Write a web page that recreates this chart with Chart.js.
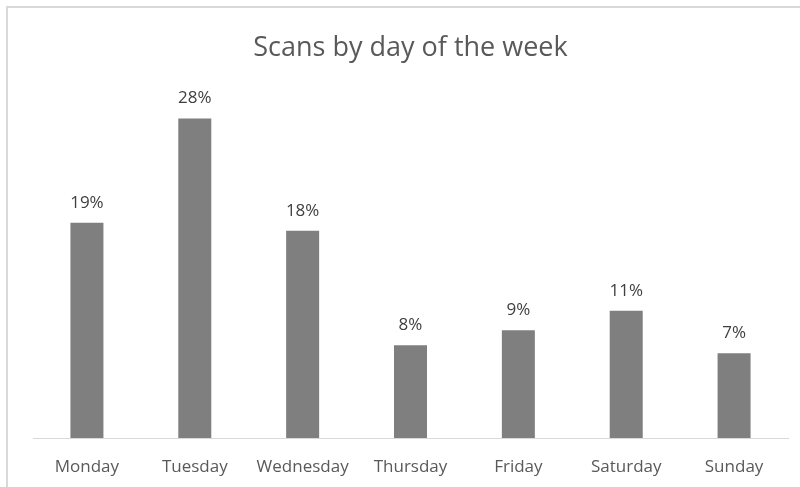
<!DOCTYPE html>
<html>
<head>
<meta charset="utf-8">
<script src="https://cdn.jsdelivr.net/npm/chart.js@4"></script>
<style>
  html, body { margin: 0; padding: 0; background: #fff; overflow: hidden; }
  #frame {
    position: absolute; left: 0; top: 0; width: 800px; height: 487px;
  }
  #chart { display: block; }
  #border {
    position: absolute; left: 6px; top: 6px; width: 820px; height: 500px;
    border: 2px solid #d9d9d9; pointer-events: none;
  }
</style>
</head>
<body>
<div id="frame">
  <canvas id="chart" width="800" height="487"></canvas>
  <div id="border"></div>
</div>
<script>
const days = ["Monday", "Tuesday", "Wednesday", "Thursday", "Friday", "Saturday", "Sunday"];
const scanShare = [18.8, 27.9, 18.1, 8.1, 9.4, 11.1, 7.4];
const shareLabels = ["19%", "28%", "18%", "8%", "9%", "11%", "7%"];

const fontFamily = "'Open Sans', 'Noto Sans', sans-serif";

// draws the percentage above each bar
const barLabels = {
    id: "barLabels",
    afterDatasetsDraw(chart) {
        const ctx = chart.ctx;
        const meta = chart.getDatasetMeta(0);
        ctx.save();
        ctx.font = "17px " + fontFamily;
        ctx.fillStyle = "#404040";
        ctx.textAlign = "center";
        ctx.textBaseline = "middle";
        meta.data.forEach((bar, i) => {
            ctx.fillText(shareLabels[i], bar.x, bar.y - 20);
        });
        ctx.restore();
    },
};

new Chart(document.getElementById("chart"), {
    type: "bar",
    data: {
        labels: days,
        datasets: [
            {
                data: scanShare,
                backgroundColor: "#7f7f7f",
                categoryPercentage: 1,
                barPercentage: 0.306,
            },
        ],
    },
    options: {
        responsive: false,
        animation: false,
        layout: { padding: { left: 33, right: 12, top: 0, bottom: 0 } },
        plugins: {
            legend: { display: false },
            tooltip: { enabled: false },
            title: {
                display: true,
                text: "Scans by day of the week",
                color: "#595959",
                font: { family: fontFamily, size: 27, weight: "normal", lineHeight: 1.2 },
                padding: { top: 32, bottom: 30 },
            },
        },
        scales: {
            x: {
                grid: { display: false },
                border: { display: true, color: "#d9d9d9", width: 1 },
                ticks: {
                    color: "#595959",
                    font: { family: fontFamily, size: 17, lineHeight: 1.2 },
                    padding: 11,
                    maxRotation: 0,
                },
                afterFit(scale) {
                    scale.height = 49;
                },
            },
            y: {
                display: false,
                min: 0,
                max: 30,
            },
        },
    },
    plugins: [barLabels],
});
</script>
</body>
</html>
